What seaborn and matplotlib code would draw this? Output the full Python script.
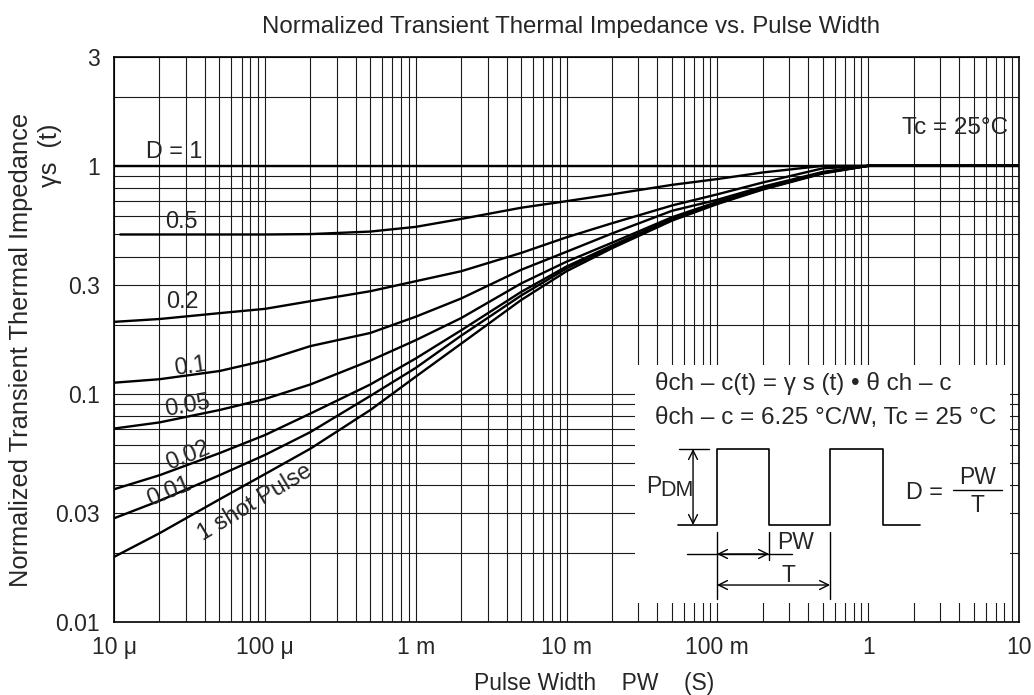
import numpy as np
import pandas as pd
import matplotlib
matplotlib.use("Agg")
import matplotlib.pyplot as plt
import matplotlib.ticker as mticker
from matplotlib.patches import Rectangle
import seaborn as sns

# pulse width (s) sample points
pulse_width = [1e-5, 2e-5, 5e-5, 1e-4, 2e-4, 5e-4, 1e-3, 2e-3, 5e-3,
               1e-2, 2e-2, 5e-2, 0.1, 0.2, 0.5, 1.0, 10.0]

# normalized transient thermal impedance, one list per duty cycle
r_d1 = [1.0] * len(pulse_width)
r_d05 = [0.5, 0.5, 0.5, 0.5, 0.502, 0.515, 0.54, 0.585, 0.655,
         0.70, 0.75, 0.825, 0.875, 0.935, 1.0, 1.0, 1.0]
r_d02 = [0.207, 0.213, 0.226, 0.236, 0.255, 0.282, 0.312, 0.345, 0.415,
         0.486, 0.56, 0.67, 0.75, 0.845, 0.975, 1.0, 1.0]
r_d01 = [0.112, 0.116, 0.126, 0.14, 0.162, 0.185, 0.218, 0.262, 0.35,
         0.42, 0.505, 0.635, 0.71, 0.81, 0.94, 1.0, 1.0]
r_d005 = [0.0705, 0.075, 0.085, 0.095, 0.11, 0.14, 0.172, 0.215, 0.305,
          0.38, 0.46, 0.595, 0.695, 0.80, 0.935, 1.0, 1.0]
r_d002 = [0.0382, 0.044, 0.055, 0.066, 0.082, 0.11, 0.143, 0.19, 0.28,
          0.362, 0.447, 0.585, 0.688, 0.795, 0.932, 1.0, 1.0]
r_d001 = [0.0285, 0.034, 0.044, 0.054, 0.068, 0.098, 0.13, 0.18, 0.27,
          0.355, 0.44, 0.58, 0.685, 0.79, 0.93, 1.0, 1.0]
r_single = [0.0193, 0.0245, 0.0345, 0.0445, 0.0575, 0.085, 0.119, 0.166, 0.258,
            0.345, 0.435, 0.575, 0.68, 0.787, 0.925, 1.0, 1.0]

duty_labels = ["1", "0.5", "0.2", "0.1", "0.05", "0.02", "0.01", "single"]
curves = [r_d1, r_d05, r_d02, r_d01, r_d005, r_d002, r_d001, r_single]

x_ticks = [1e-5, 1e-4, 1e-3, 1e-2, 1e-1, 1, 10]
x_tick_labels = ["10 μ", "100 μ", "1 m", "10 m", "100 m", "1", "10"]
y_ticks = [0.01, 0.03, 0.1, 0.3, 1, 3]
y_tick_labels = ["0.01", "0.03", "0.1", "0.3", "1", "3"]

rows = []
for lab, vals in zip(duty_labels, curves):
    for pw, r in zip(pulse_width, vals):
        rows.append((lab, pw, r))
df = pd.DataFrame(rows, columns=["duty", "pw", "r"])
# the 0.5 curve starts a little right of the axis
df = df[~((df["duty"] == "0.5") & (df["pw"] < 1.05e-5))]
df = pd.concat([df, pd.DataFrame([("0.5", 1.1e-5, 0.5)], columns=df.columns)])
df = df.sort_values(["duty", "pw"])

sns.set_style("white")
plt.rcParams["font.family"] = ["Liberation Sans", "DejaVu Sans"]

fig = plt.figure(figsize=(10.34, 6.95), dpi=100)
ax = fig.add_axes([0.1103, 0.105, 0.8752, 0.813])

sns.lineplot(data=df, x="pw", y="r", hue="duty", palette=["black"] * len(duty_labels),
             estimator=None, sort=False, legend=False, linewidth=1.7, ax=ax, zorder=2)

ax.set_xscale("log")
ax.set_yscale("log")
ax.set_xlim(1e-5, 10)
ax.set_ylim(0.01, 3)
ax.set_xticks(x_ticks)
ax.set_xticklabels(x_tick_labels)
ax.set_yticks(y_ticks)
ax.set_yticklabels(y_tick_labels)
ax.xaxis.set_minor_locator(mticker.LogLocator(base=10, subs=range(2, 10), numticks=50))
ax.yaxis.set_minor_locator(mticker.LogLocator(base=10, subs=range(2, 10), numticks=50))
ax.xaxis.set_minor_formatter(mticker.NullFormatter())
ax.yaxis.set_minor_formatter(mticker.NullFormatter())
ax.tick_params(which="both", length=0, labelsize=16.5, pad=10)
ax.set_axisbelow(True)
ax.grid(which="both", color="#1a1a1a", linewidth=0.8)
ax.set_xlabel("")
ax.set_ylabel("")
for s in ax.spines.values():
    s.set_color("black")
    s.set_linewidth(1.2)

# white inset panel covering the grid
ax.add_patch(Rectangle((0.5757, 0.0336), 0.4144, 0.4213, transform=ax.transAxes,
                       facecolor="white", edgecolor="none", zorder=1))

# curve labels
fs = 16.8
ax.text(2.5e-5, 1.03, "D = 1", ha="center", va="bottom", fontsize=fs, zorder=3)
ax.text(2.8e-5, 0.57, "0.5", ha="center", va="center", fontsize=fs, zorder=3)
ax.text(2.85e-5, 0.255, "0.2", ha="center", va="center", fontsize=fs, zorder=3)
ax.text(3.2e-5, 0.1325, "0.1", ha="center", va="center", fontsize=fs, rotation=8, zorder=3)
ax.text(3.05e-5, 0.089, "0.05", ha="center", va="center", fontsize=fs, rotation=10, zorder=3)
ax.text(3.1e-5, 0.054, "0.02", ha="center", va="center", fontsize=fs, rotation=22, zorder=3)
ax.text(2.3e-5, 0.0375, "0.01", ha="center", va="center", fontsize=fs, rotation=22, zorder=3)
ax.text(8.6e-5, 0.0335, "1 shot Pulse", ha="center", va="center", fontsize=fs,
        rotation=31, zorder=3)
ax.text(0.9878, 0.8743, "Tc = 25°C", transform=ax.transAxes, ha="right", va="center",
        fontsize=17.5, zorder=3)

# inset formulas
tA = ax.transAxes
ax.text(0.5978, 0.4230, "θch – c(t) = γ s (t) • θ ch – c", transform=tA,
        ha="left", va="center", fontsize=17.5, zorder=3)
ax.text(0.5978, 0.3611, "θch – c = 6.25 °C/W, Tc = 25 °C", transform=tA,
        ha="left", va="center", fontsize=17.5, zorder=3)

# pulse train sketch
wave_x = [0.6232, 0.6663, 0.6663, 0.7238, 0.7238, 0.7912, 0.7912, 0.8497, 0.8497, 0.8906]
wave_y = [0.1717, 0.1717, 0.3062, 0.3062, 0.1717, 0.1717, 0.3062, 0.3062, 0.1717, 0.1717]
ax.plot(wave_x, wave_y, transform=tA, color="black", lw=1.2, zorder=3)
ax.plot([0.6243, 0.6575], [0.3062, 0.3062], transform=tA, color="black", lw=1.0, zorder=3)
arrow = dict(arrowstyle="<->", lw=1.0, color="black", shrinkA=0, shrinkB=0,
             mutation_scale=16)
ax.annotate("", xy=(0.6398, 0.3062), xytext=(0.6398, 0.1717), xycoords=tA,
            textcoords=tA, arrowprops=arrow, zorder=3)
ax.text(0.5878, 0.2407, "P", transform=tA, ha="left", va="center", fontsize=16.5, zorder=3)
ax.text(0.6033, 0.2336, "DM", transform=tA, ha="left", va="center", fontsize=15.5, zorder=3)

for xv, y0, y1 in [(0.6663, 0.1593, 0.0407), (0.7912, 0.1593, 0.0407), (0.7238, 0.1593, 0.1097)]:
    ax.plot([xv, xv], [y0, y1], transform=tA, color="black", lw=1.0, zorder=3)
ax.plot([0.6331, 0.7492], [0.1204, 0.1204], transform=tA, color="black", lw=1.0, zorder=3)
ax.annotate("", xy=(0.7238, 0.1204), xytext=(0.6663, 0.1204), xycoords=tA,
            textcoords=tA, arrowprops=arrow, zorder=3)
ax.annotate("", xy=(0.7912, 0.0655), xytext=(0.6663, 0.0655), xycoords=tA,
            textcoords=tA, arrowprops=arrow, zorder=3)
ax.text(0.7326, 0.1416, "PW", transform=tA, ha="left", va="center", fontsize=16.5, zorder=3)
ax.text(0.7448, 0.0830, "T", transform=tA, ha="center", va="center", fontsize=16.5, zorder=3)

ax.text(0.8751, 0.2301, "D =", transform=tA, ha="left", va="center", fontsize=16.8, zorder=3)
ax.plot([0.9271, 0.9812], [0.2336, 0.2336], transform=tA, color="black", lw=1.0, zorder=3)
ax.text(0.9541, 0.2566, "PW", transform=tA, ha="center", va="center", fontsize=16.5, zorder=3)
ax.text(0.9541, 0.2071, "T", transform=tA, ha="center", va="center", fontsize=16.5, zorder=3)

# titles and axis labels
fig.text(0.552, 0.961, "Normalized Transient Thermal Impedance vs. Pulse Width",
         ha="center", va="center", fontsize=17.3)
fig.text(0.575, 0.017, "Pulse Width    PW    (S)", ha="center", va="center", fontsize=16.5)
fig.text(0.0205, 0.496, "Normalized Transient Thermal Impedance", rotation=90,
         ha="center", va="center", fontsize=18.3)
fig.text(0.048, 0.777, "γs  (t)", rotation=90, ha="center", va="center", fontsize=18.3)

fig.savefig("out.png", dpi=100)
